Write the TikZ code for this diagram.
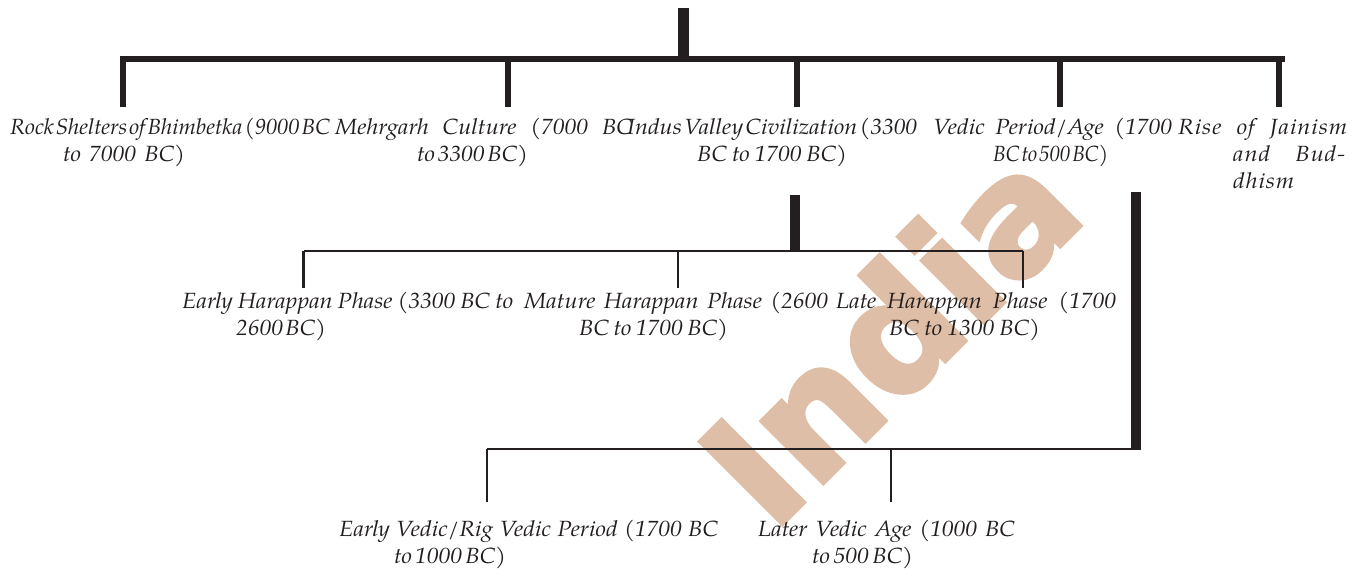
\documentclass[tikz,border=0pt]{standalone}
\usepackage{fontspec}
\setmainfont{texgyrepagella}[Extension=.otf, UprightFont=*-regular, ItalicFont=*-italic,
  BoldFont=*-bold, BoldItalicFont=*-bolditalic, ItalicFeatures={FakeStretch=1.07}]
\newfontfamily\markfont{DejaVu Sans}[BoldFeatures={FakeBold=3}]
\usepackage{graphicx}
\usepackage{xcolor}
\usepackage{tikz}
\usetikzlibrary{positioning,calc}
\definecolor{ink}{HTML}{231F20}
\definecolor{tan}{HTML}{DEBEA6}
% one justified line of a label: spaces stretched or closed up, squeezed if still too long
\newsavebox\linebox
\newcommand{\lbox}[2]{\sbox\linebox{\spaceskip=.1em\relax#2}%
  \ifdim\wd\linebox>#1pt\resizebox{#1pt}{\height}{\usebox\linebox}%
  \else\makebox[#1pt][s]{\spaceskip=.25em plus 1em minus .15em\relax#2}\fi}

\begin{document}
\begin{tikzpicture}[x=1pt, y=-1pt,
    era/.style={anchor=base west, inner sep=0pt, align=left, text=ink,
      font=\fontsize{22}{27}\selectfont\itshape},
    trunk/.style={draw=ink, line width=10.5pt},
    limb/.style={draw=ink, line width=5.5pt},
    twig/.style={draw=ink, line width=2.4pt}]
  \useasboundingbox (0,0) rectangle (1364,569);

  % watermark
  \node[rotate=45, anchor=base west, inner sep=0pt, text=tan,
        font=\markfont\bfseries\fontsize{159}{159}\selectfont] (mark) at (772,534) {India};

  % top level (nodes sit on their last line)
  \node[era] (rock) at (10,161.5) {\lbox{320}{Rock Shelters of Bhimbetka (9000 BC}\\
    \hspace*{53pt}\lbox{122}{to 7000 BC)}};
  \node[era] (mehr) at (335,161.5) {\lbox{297}{Mehrgarh Culture (7000 BC}\\
    \hspace*{82pt}\lbox{111}{to 3300 BC)}};
  \node[era] (indus) at (627,161.5) {\lbox{290}{Indus Valley Civilization (3300}\\
    \hspace*{70pt}\lbox{150}{BC to 1700 BC)}};
  \node[era] (vedic) at (933,161.5) {\lbox{239}{Vedic Period/Age (1700}\\
    \hspace*{60pt}\lbox{115}{BC to 500 BC)}};
  \node[era, font=\fontsize{22}{27}\selectfont\itshape\addfontfeatures{LetterSpace=4}]
    (jain) at (1178,188.5) {\lbox{169}{Rise of Jainism}\\
    \hspace*{55pt}\lbox{112}{and Bud-}\\
    \hspace*{55pt}dhism};

  \coordinate (root) at (683.5,8);
  \coordinate (fork) at (683.5,59);
  \coordinate (forkl) at (120,59);
  \coordinate (forkr) at (1285,59);
  \coordinate (rocktop) at (123,107);
  \coordinate (mehrtop) at (508,107);
  \coordinate (industop) at (797,107);
  \coordinate (vedictop) at (1060,107);
  \coordinate (jaintop) at (1279,107);

  \draw[trunk] (root) -- (fork);
  \draw[limb] (forkl) -- (forkr);
  \foreach \t in {rocktop,mehrtop,industop,vedictop,jaintop}
    \draw[limb] (\t |- fork) -- (\t);

  % Harappan phases
  \node[era] (earlyh) at (182,335) {\lbox{331}{Early Harappan Phase (3300 BC to}\\
    \hspace*{54pt}\lbox{90}{2600 BC)}};
  \node[era] (matureh) at (524,335) {\lbox{304}{Mature Harappan Phase (2600}\\
    \hspace*{55pt}\lbox{149}{BC to 1700 BC)}};
  \node[era] (lateh) at (836,335) {\lbox{280}{Late Harappan Phase (1700}\\
    \hspace*{53pt}\lbox{151}{BC to 1300 BC)}};

  \coordinate (hroot) at (795,195);
  \coordinate (hfork) at (795,251);
  \coordinate (hforkl) at (303.5,251);
  \coordinate (hforkr) at (1023,251);
  \coordinate (earlyhtop) at (303.5,288);
  \coordinate (maturehtop) at (678,288);
  \coordinate (latehtop) at (1023,288);

  \draw[trunk, line width=10pt] (hroot) -- (hfork);
  \draw[twig] (hforkl) -- (hforkr);
  \foreach \t in {earlyhtop,maturehtop,latehtop}
    \draw[twig] (\t |- hfork) -- (\t);

  % Vedic ages
  \node[era] (rig) at (339,563) {\lbox{379}{Early Vedic/Rig Vedic Period (1700 BC}\\
    \hspace*{55pt}\lbox{112}{to 1000 BC)}};
  \node[era] (later) at (758,563) {\lbox{257}{Later Vedic Age (1000 BC}\\
    \hspace*{54pt}\lbox{101}{to 500 BC)}};

  \coordinate (vroot) at (1136,192);
  \coordinate (vfork) at (1136,450);
  \coordinate (vforkl) at (487,449);
  \coordinate (rigtop) at (487,502);
  \coordinate (latertop) at (891,502);

  \draw[trunk] (vroot) -- (vfork);
  \draw[twig] (vforkl) -- (vforkl -| vroot);
  \foreach \t in {rigtop,latertop}
    \draw[twig] (\t |- vforkl) -- (\t);
\end{tikzpicture}
\end{document}
